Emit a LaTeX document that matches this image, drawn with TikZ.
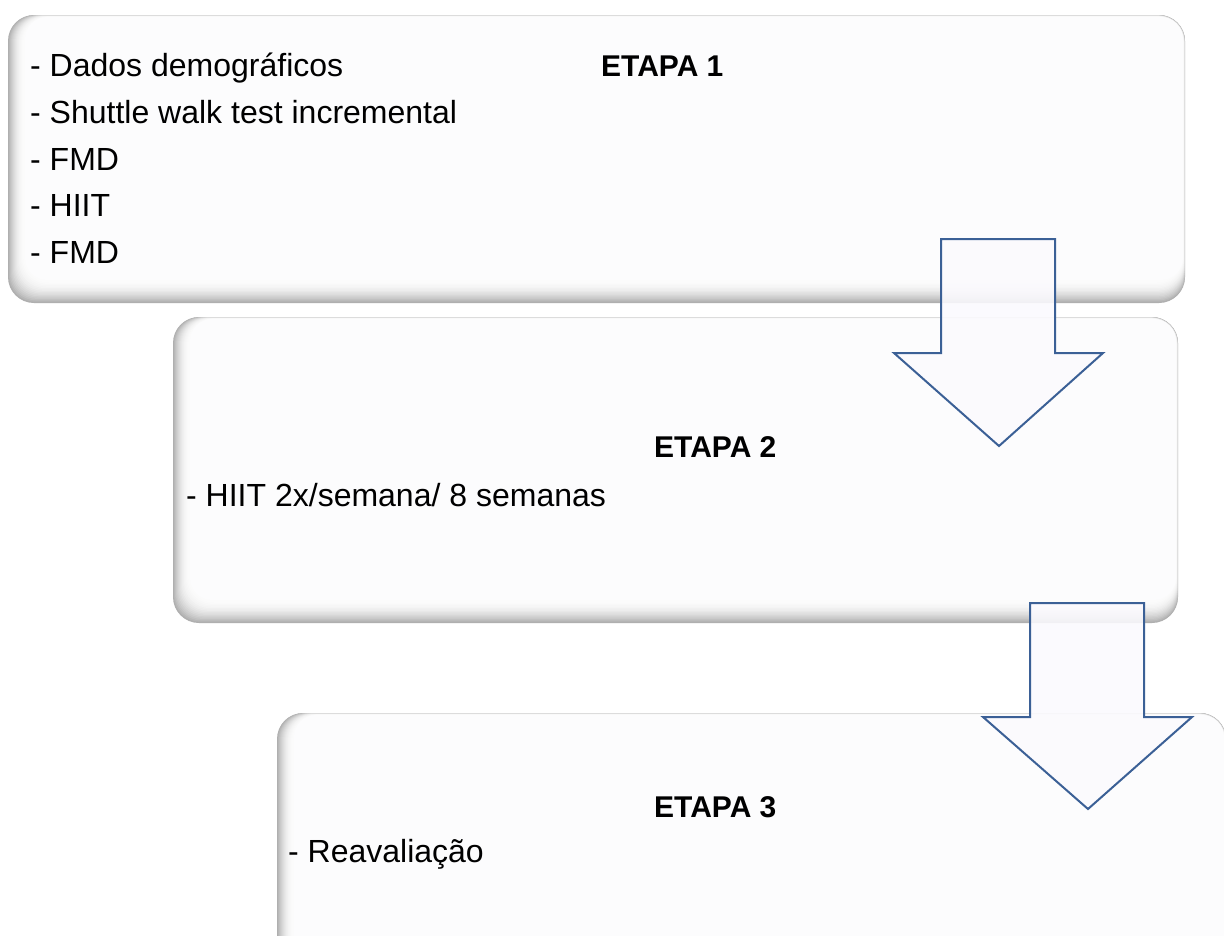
\documentclass[tikz,border=0pt]{standalone}
\usepackage{fontspec}
\setmainfont{Liberation Sans}
\definecolor{arrowblue}{RGB}{59,96,150}
\definecolor{arrowfill}{RGB}{251,250,254}
\definecolor{boxfill}{RGB}{252,252,253}
\tikzset{
  listtext/.style={anchor=base west, inner sep=0, font=\fontsize{32}{38}\selectfont},
  stagetitle/.style={anchor=base west, inner sep=0, font=\fontsize{30}{36}\selectfont\bfseries},
  blockarrow/.style={draw=arrowblue, line width=2pt, fill=arrowfill, fill opacity=0.88, line join=miter},
}
% soft rounded panel: gray shading along the left and bottom edges
\newcommand\softpanel[5]{%
  \foreach \k in {0,...,16}{%
    \pgfmathsetmacro\g{1.5+30*(1-\k/16)^2}%
    \fill[black!\g, rounded corners=26pt]
      ({#2+1.0*\k},{#3+0.1*\k}) rectangle ({#4-0.1*\k},{#5-1.35*\k});
  }%
  \fill[boxfill, rounded corners=22pt] ({#2+17},{#3+2}) rectangle ({#4-2},{#5-23});
  \node[inner sep=0, minimum width={#4-#2}, minimum height={#5-#3}] (#1)
    at ({(#2+#4)/2},{(#3+#5)/2}) {};
}
\begin{document}
\begin{tikzpicture}[x=1pt,y=-1pt]
\useasboundingbox (0,0) rectangle (1224,935);
\fill[white] (0,0) rectangle (1224,935);
\clip (0,0) rectangle (1224,935);

% stage panels
\softpanel{box1}{8}{15}{1185}{303}
\softpanel{box2}{173}{317}{1178}{623}
\softpanel{box3}{277}{713}{1226}{980}

% stage 1
\node[listtext] (l1) at (30,76) {- Dados demográficos};
\node[listtext] (l2) at (30,123) {- Shuttle walk test incremental};
\node[listtext] (l3) at (30,170) {- FMD};
\node[listtext] (l4) at (30,216) {- HIIT};
\node[listtext] (l5) at (30,263) {- FMD};
\node[stagetitle] (t1) at (601,76) {ETAPA 1};

% stage 2
\node[stagetitle] (t2) at (654,457) {ETAPA 2};
\node[listtext] (m1) at (186,506) {- HIIT 2x/semana/ 8 semanas};

% stage 3
\node[stagetitle] (t3) at (654,817) {ETAPA 3};
\node[listtext] (r1) at (288,862) {- Reavaliação};

% block arrows between stages
\draw[blockarrow] (941,239) -- (1055,239) -- (1055,353) -- (1103,353)
  -- (999,446) -- (894,353) -- (941,353) -- cycle;
\draw[blockarrow] (1030,603) -- (1144,603) -- (1144,717) -- (1192,717)
  -- (1088,809) -- (983,717) -- (1030,717) -- cycle;
\end{tikzpicture}
\end{document}
